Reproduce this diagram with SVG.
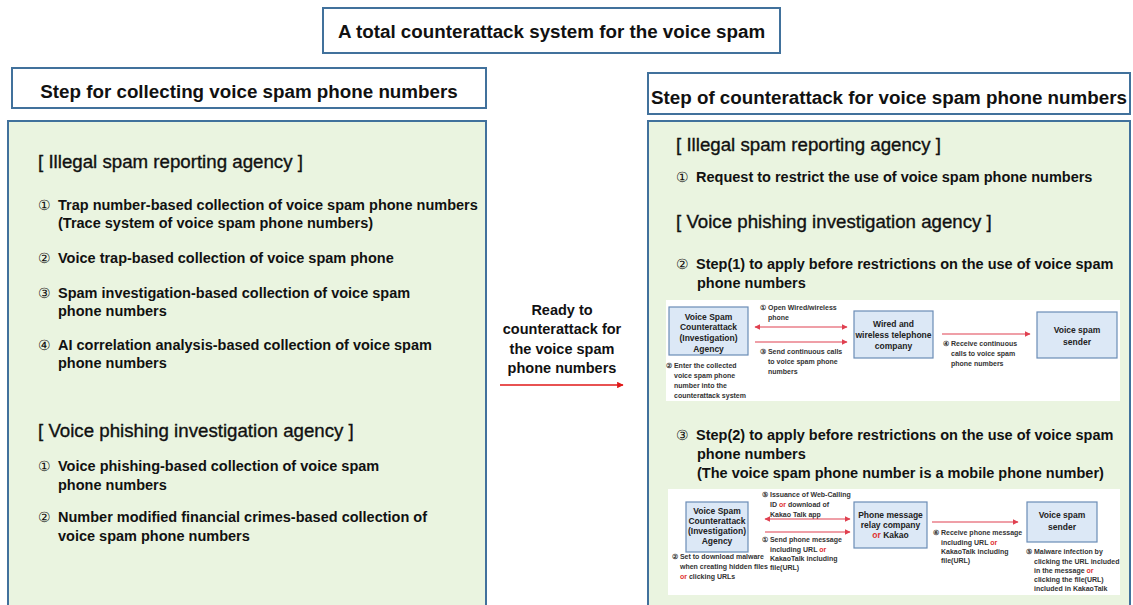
<svg xmlns="http://www.w3.org/2000/svg" width="1133" height="605" viewBox="0 0 1133 605">
<defs>
<style>
.hdr{fill:#fff;stroke:#41719c;stroke-width:2}
.panel{fill:#eaf4e0;stroke:#41719c;stroke-width:2}
.t{font-family:"Liberation Sans",Arial,sans-serif;fill:#111}
.title{font-size:18.8px;font-weight:bold}
.sec{font-size:18.7px;stroke:#111;stroke-width:0.35}
.item{font-size:14.5px;font-weight:bold}
.cn{font-weight:normal;font-size:13.5px}
.wb{fill:#fff;stroke:none}
.nb{fill:#dce8f6;stroke:#6a8cb6;stroke-width:1.2}
.nt{font-family:"Liberation Sans",Arial,sans-serif;font-size:8.5px;font-weight:bold;fill:#222;text-anchor:middle}
.lt{font-family:"Liberation Sans",Arial,sans-serif;font-size:7px;font-weight:bold;fill:#333}
.red{fill:#e03030}
.ar{stroke:#e04050;stroke-width:1.2;fill:none}
</style>
<marker id="ah" viewBox="0 0 10 10" refX="9" refY="5" markerWidth="5" markerHeight="5" orient="auto-start-reverse"><path d="M0,0L10,5L0,10z" fill="#e04050"/></marker>
<marker id="ahm" viewBox="0 0 10 10" refX="9" refY="5" markerWidth="5" markerHeight="5" orient="auto"><path d="M0,0L10,5L0,10z" fill="#e01818"/></marker>
</defs>

<g id="title">
<rect class="hdr" x="323" y="8" width="457" height="45"/>
<text class="t title" x="551.5" y="38" text-anchor="middle">A total counterattack system for the voice spam</text>
</g>

<g id="left-header">
<rect class="hdr" x="12" y="68" width="474" height="40"/>
<text class="t title" x="249" y="98" text-anchor="middle">Step for collecting voice spam phone numbers</text>
</g>

<g id="right-header">
<rect class="hdr" x="648" y="73" width="482" height="41"/>
<text class="t title" x="651" y="104">Step of counterattack for voice spam phone numbers</text>
</g>

<g id="left-panel">
<rect class="panel" x="8" y="121" width="478" height="500"/>
<text class="t sec" x="38" y="168">[ Illegal spam reporting agency ]</text>
<text class="t item" x="38" y="210"><tspan class="cn">①</tspan><tspan x="58">Trap number-based collection of voice spam phone numbers</tspan></text>
<text class="t item" x="58" y="228">(Trace system of voice spam phone numbers)</text>
<text class="t item" x="38" y="263"><tspan class="cn">②</tspan><tspan x="58">Voice trap-based collection of voice spam phone</tspan></text>
<text class="t item" x="38" y="298"><tspan class="cn">③</tspan><tspan x="58">Spam investigation-based collection of voice spam</tspan></text>
<text class="t item" x="58" y="316">phone numbers</text>
<text class="t item" x="38" y="350"><tspan class="cn">④</tspan><tspan x="58">AI correlation analysis-based collection of voice spam</tspan></text>
<text class="t item" x="58" y="368">phone numbers</text>
<text class="t sec" x="38" y="437">[ Voice phishing investigation agency ]</text>
<text class="t item" x="38" y="471"><tspan class="cn">①</tspan><tspan x="58">Voice phishing-based collection of voice spam</tspan></text>
<text class="t item" x="58" y="490">phone numbers</text>
<text class="t item" x="38" y="522"><tspan class="cn">②</tspan><tspan x="58">Number modified financial crimes-based collection of</tspan></text>
<text class="t item" x="58" y="541">voice spam phone numbers</text>
</g>

<g id="middle">
<text class="t item" x="562" y="315" text-anchor="middle">Ready to</text>
<text class="t item" x="562" y="334" text-anchor="middle">counterattack for</text>
<text class="t item" x="562" y="354" text-anchor="middle">the voice spam</text>
<text class="t item" x="562" y="373" text-anchor="middle">phone numbers</text>
</g>

<g id="right-panel">
<rect class="panel" x="648" y="121" width="482" height="500"/>
<text class="t sec" x="676" y="151">[ Illegal spam reporting agency ]</text>
<text class="t item" x="676" y="182"><tspan class="cn">①</tspan><tspan x="696">Request to restrict the use of voice spam phone numbers</tspan></text>
<text class="t sec" x="676" y="228">[ Voice phishing investigation agency ]</text>
<text class="t item" x="676" y="269"><tspan class="cn">②</tspan><tspan x="696">Step(1) to apply before restrictions on the use of voice spam</tspan></text>
<text class="t item" x="697" y="288">phone numbers</text>
<text class="t item" x="676" y="440"><tspan class="cn">③</tspan><tspan x="696">Step(2) to apply before restrictions on the use of voice spam</tspan></text>
<text class="t item" x="697" y="459">phone numbers</text>
<text class="t item" x="697" y="478">(The voice spam phone number is a mobile phone number)</text>
</g>

<g id="diagram1">
<rect class="wb" x="666" y="300" width="454" height="101"/>
<g id="d1-agency">
<rect class="nb" x="669" y="307" width="79" height="48"/>
<text class="nt" x="708.5" y="320">Voice Spam</text>
<text class="nt" x="708.5" y="330">Counterattack</text>
<text class="nt" x="708.5" y="341">(Investigation)</text>
<text class="nt" x="708.5" y="352">Agency</text>
</g>
<g id="d1-telco">
<rect class="nb" x="854" y="311" width="79" height="47"/>
<text class="nt" x="893.5" y="327">Wired and</text>
<text class="nt" x="893.5" y="338">wireless telephone</text>
<text class="nt" x="893.5" y="349">company</text>
</g>
<g id="d1-sender">
<rect class="nb" x="1037" y="312" width="80" height="46"/>
<text class="nt" x="1077" y="333">Voice spam</text>
<text class="nt" x="1077" y="345">sender</text>
</g>
<text class="lt" x="760" y="310">① Open Wired/wireless</text>
<text class="lt" x="768" y="320">phone</text>
<text class="lt" x="760" y="354">③ Send continuous calls</text>
<text class="lt" x="768" y="364">to voice spam phone</text>
<text class="lt" x="768" y="374">numbers</text>
<text class="lt" x="666" y="368">② Enter the collected</text>
<text class="lt" x="674" y="378">voice spam phone</text>
<text class="lt" x="674" y="388">number into the</text>
<text class="lt" x="674" y="398">counterattack system</text>
<text class="lt" x="943" y="346">④ Receive continuous</text>
<text class="lt" x="951" y="356">calls to voice spam</text>
<text class="lt" x="951" y="366">phone numbers</text>
</g>

<g id="diagram2">
<rect class="wb" x="668" y="489" width="452" height="106"/>
<g id="d2-agency">
<rect class="nb" x="686" y="502" width="62" height="50"/>
<text class="nt" x="717" y="514">Voice Spam</text>
<text class="nt" x="717" y="524">Counterattack</text>
<text class="nt" x="717" y="534">(Investigation)</text>
<text class="nt" x="717" y="544">Agency</text>
</g>
<g id="d2-relay">
<rect class="nb" x="854" y="502" width="73" height="46"/>
<text class="nt" x="890.5" y="518">Phone message</text>
<text class="nt" x="890.5" y="528">relay company</text>
<text class="nt" x="890.5" y="538"><tspan class="red">or</tspan> Kakao</text>
</g>
<g id="d2-sender">
<rect class="nb" x="1027" y="502" width="70" height="40"/>
<text class="nt" x="1062" y="518">Voice spam</text>
<text class="nt" x="1062" y="530">sender</text>
</g>
<text class="lt" x="762" y="497">⑤ Issuance of Web-Calling</text>
<text class="lt" x="770" y="507">ID <tspan class="red">or</tspan> download of</text>
<text class="lt" x="770" y="517">Kakao Talk app</text>
<text class="lt" x="762" y="542">① Send phone message</text>
<text class="lt" x="770" y="552">including URL <tspan class="red">or</tspan></text>
<text class="lt" x="770" y="561">KakaoTalk including</text>
<text class="lt" x="770" y="570">file(URL)</text>
<text class="lt" x="672" y="559">② Set to download malware</text>
<text class="lt" x="680" y="569">when creating hidden files</text>
<text class="lt" x="680" y="579"><tspan class="red">or</tspan> clicking URLs</text>
<text class="lt" x="933" y="535">⑥ Receive phone message</text>
<text class="lt" x="941" y="545">including URL <tspan class="red">or</tspan></text>
<text class="lt" x="941" y="554">KakaoTalk including</text>
<text class="lt" x="941" y="563">file(URL)</text>
<text class="lt" x="1026" y="554">⑤ Malware infection by</text>
<text class="lt" x="1034" y="564">clicking the URL included</text>
<text class="lt" x="1034" y="573">in the message <tspan class="red">or</tspan></text>
<text class="lt" x="1034" y="582">clicking the file(URL)</text>
<text class="lt" x="1034" y="591">included in KakaoTalk</text>
</g>

<g id="connectors">
<line x1="500" y1="385" x2="623" y2="385" stroke="#e01818" stroke-width="1.3" marker-end="url(#ahm)"/>
<line class="ar" x1="755" y1="327" x2="847" y2="327" marker-start="url(#ah)" marker-end="url(#ah)"/>
<line class="ar" x1="755" y1="342" x2="847" y2="342" marker-end="url(#ah)"/>
<line class="ar" x1="942" y1="334" x2="1030" y2="334" marker-end="url(#ah)"/>
<line class="ar" x1="765" y1="519" x2="850" y2="519" marker-start="url(#ah)" marker-end="url(#ah)"/>
<line class="ar" x1="765" y1="532" x2="850" y2="532" marker-end="url(#ah)"/>
<line class="ar" x1="932" y1="522" x2="1018" y2="522" marker-end="url(#ah)"/>
</g>
</svg>
